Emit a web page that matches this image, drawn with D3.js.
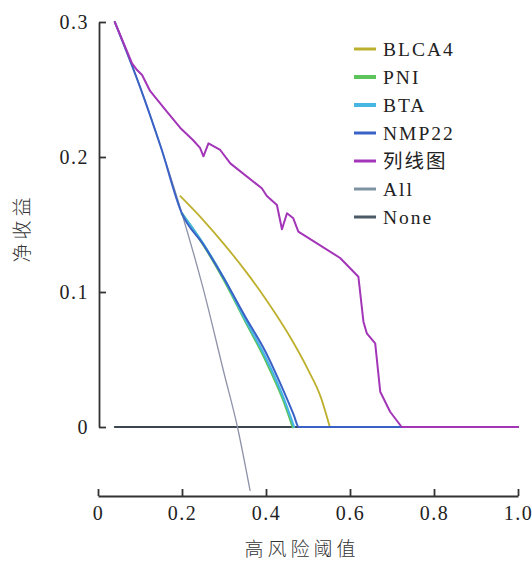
<!DOCTYPE html>
<html>
<head>
<meta charset="utf-8">
<script src="https://cdn.jsdelivr.net/npm/d3@7"></script>
<style>
  html, body { margin: 0; padding: 0; background: #fff; }
  svg { display: block; }
  .tick text { font-family: "Liberation Serif", "Times New Roman", Times, serif; font-size: 20px; fill: #222; letter-spacing: 1.5px; }
  .legend text { font-family: "Liberation Serif", "Times New Roman", "Noto Sans CJK SC", serif; font-size: 19.5px; fill: #222; letter-spacing: 2px; }
  .title { font-family: "Noto Sans CJK SC", sans-serif; font-size: 19px; fill: #333; letter-spacing: 4px; font-weight: 300; }
</style>
</head>
<body>
<svg id="chart" width="532" height="561"></svg>
<script>
// Decision curves: net benefit against high-risk threshold
const seriesNames = ["BLCA4", "PNI", "BTA", "NMP22", "列线图", "All", "None"];
const seriesColors = ["#bdb02e", "#5cc45a", "#47b6e3", "#3a62c6", "#a335b8", "#8e93a8", "#3d4650"];
const legendColors = ["#bdb02e", "#5cc45a", "#47b6e3", "#3a62c6", "#a335b8", "#7e93a2", "#4b5a66"];

const xTicks = [0, 0.2, 0.4, 0.6, 0.8, 1.0];
const xTickLabels = ["0", "0.2", "0.4", "0.6", "0.8", "1.0"];
const yTicks = [0, 0.1, 0.2, 0.3];
const yTickLabels = ["0", "0.1", "0.2", "0.3"];

const xTitle = "高风险阈值";
const yTitle = "净收益";

// [threshold, net benefit]
const blca4 = [[0.196, 0.171], [0.250, 0.1535], [0.300, 0.1355], [0.350, 0.1160], [0.400, 0.0945],
  [0.450, 0.0705], [0.500, 0.0425], [0.530, 0.0225], [0.552, 0.0]];
const pni = [[0.200, 0.158], [0.250, 0.1355], [0.300, 0.109], [0.350, 0.079],
  [0.400, 0.049], [0.440, 0.021], [0.464, 0.0]];
const bta = [[0.200, 0.158], [0.250, 0.136], [0.300, 0.110], [0.350, 0.080],
  [0.400, 0.051], [0.440, 0.023], [0.467, 0.0]];
const nmp22 = [[0.040, 0.300], [0.100, 0.252], [0.150, 0.207], [0.200, 0.158],
  [0.250, 0.1355], [0.300, 0.110], [0.350, 0.082], [0.400, 0.055], [0.440, 0.028], [0.466, 0.009],
  [0.478, 0.0], [0.720, 0.0]];
const nomogram = [[0.040, 0.300], [0.081, 0.2694], [0.093, 0.2644], [0.105, 0.2607], [0.124, 0.2489],
  [0.136, 0.2444], [0.164, 0.2336], [0.196, 0.2215], [0.226, 0.2126], [0.243, 0.2067], [0.251, 0.2005],
  [0.263, 0.2101], [0.291, 0.2052], [0.315, 0.1953], [0.390, 0.1768], [0.402, 0.1711], [0.426, 0.1644],
  [0.438, 0.1465], [0.450, 0.1583], [0.465, 0.1546], [0.477, 0.1447], [0.5765, 0.1252], [0.620, 0.1113],
  [0.632, 0.0780], [0.640, 0.0694], [0.660, 0.0620], [0.672, 0.0261], [0.6955, 0.0113], [0.723, 0.0],
  [1.000, 0.0]];
const treatAll = [[0.040, 0.300], [0.100, 0.252], [0.150, 0.207], [0.200, 0.158], [0.250, 0.103],
  [0.300, 0.040], [0.332, 0.0], [0.362, -0.047]];
const treatNone = [[0.040, 0.0], [1.000, 0.0]];

const svg = d3.select("#chart");

const x = d3.scaleLinear().domain([0, 1]).range([98, 518]);
const y = d3.scaleLinear().domain([0, 0.3]).range([427, 22]);

const serif = "'Liberation Serif', 'Times New Roman', Times, serif";

// y axis: ticks pointing into the plot
const yAxis = d3.axisLeft(y).tickValues(yTicks).tickFormat((d, i) => yTickLabels[i])
  .tickSize(-7).tickSizeOuter(0).tickPadding(10);
const gy = svg.append("g").attr("transform", `translate(${x(0) + 1},0)`).call(yAxis)
  .attr("font-family", serif).attr("font-size", 20);
gy.selectAll("path, line").attr("stroke", "#333").attr("stroke-width", 1.8);

// x axis sits detached below the plot
const xAxis = d3.axisBottom(x).tickValues(xTicks).tickFormat((d, i) => xTickLabels[i])
  .tickSize(-7).tickSizeOuter(0).tickPadding(10);
const gx = svg.append("g").attr("transform", "translate(0,496)").call(xAxis)
  .attr("font-family", serif).attr("font-size", 20);
gx.selectAll("path, line").attr("stroke", "#333").attr("stroke-width", 1.8);

const lineSmooth = d3.line().x(d => x(d[0])).y(d => y(d[1])).curve(d3.curveMonotoneX);
const lineStraight = d3.line().x(d => x(d[0])).y(d => y(d[1]));

const plotOrder = [
  { data: treatNone, i: 6, w: 2, gen: lineStraight },
  { data: treatAll, i: 5, w: 1.3, gen: lineSmooth },
  { data: blca4, i: 0, w: 1.8, gen: lineSmooth },
  { data: pni, i: 1, w: 2.6, gen: lineSmooth },
  { data: bta, i: 2, w: 2.2, gen: lineSmooth },
  { data: nmp22, i: 3, w: 2, gen: lineSmooth },
  { data: nomogram, i: 4, w: 2, gen: lineStraight }
];

svg.append("g").selectAll("path").data(plotOrder).join("path")
  .attr("d", d => d.gen(d.data))
  .attr("fill", "none")
  .attr("stroke", d => seriesColors[d.i])
  .attr("stroke-width", d => d.w)
  .attr("stroke-linejoin", "round")
  .attr("stroke-linecap", "round");

// legend
const legend = svg.append("g").attr("class", "legend").attr("transform", "translate(354,49)");
const rows = legend.selectAll("g").data(seriesNames).join("g")
  .attr("transform", (d, i) => `translate(0,${i * 28})`);
rows.append("line").attr("x1", 0).attr("x2", 22).attr("y1", 0).attr("y2", 0)
  .attr("stroke", (d, i) => legendColors[i])
  .attr("stroke-width", (d, i) => (i === 1 || i === 2) ? 4 : 3);
rows.append("text").attr("x", 29).attr("dy", "0.35em").text(d => d);

// axis titles
svg.append("text").attr("class", "title")
  .attr("x", 302).attr("y", 549).attr("dy", "0.35em").attr("text-anchor", "middle")
  .text(xTitle);
svg.append("text").attr("class", "title")
  .attr("transform", "translate(22,228) rotate(-90)")
  .attr("dy", "0.35em").attr("text-anchor", "middle")
  .text(yTitle);
</script>
</body>
</html>
